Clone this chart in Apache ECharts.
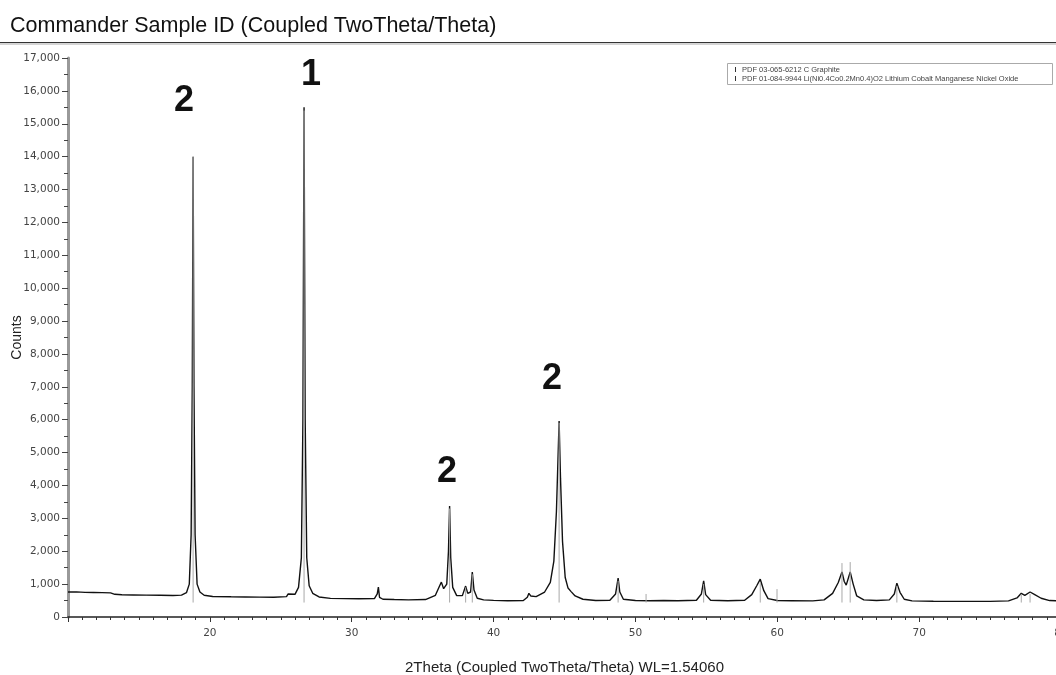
<!DOCTYPE html>
<html>
<head>
<meta charset="utf-8">
<script src="https://cdn.jsdelivr.net/npm/echarts@6/dist/echarts.min.js"></script>
<style>
html,body{margin:0;padding:0;background:#fff;}
#chart{width:1056px;height:675px;}
</style>
</head>
<body>
<div id="chart"></div>
<script>
const scanAngles = [10.0,10.6,11.2,11.8,12.4,13.0,13.3,13.8,14.6,15.5,16.5,17.4,18.0,18.35,18.55,18.68,18.76,18.82,18.88,18.96,19.1,19.3,19.6,20.2,21.5,22.5,23.5,24.5,25.4,25.52,25.58,25.64,26.0,26.25,26.45,26.56,26.64,26.72,26.83,27.0,27.25,27.7,28.5,29.5,30.5,31.6,31.8,31.88,31.96,32.2,33.0,34.0,35.2,35.9,36.2,36.32,36.48,36.7,36.82,36.9,36.98,37.12,37.4,37.8,38.03,38.18,38.38,38.5,38.62,38.85,39.3,40.0,41.0,42.1,42.38,42.49,42.62,43.0,43.6,44.0,44.25,44.43,44.54,44.62,44.72,44.86,45.05,45.25,45.45,45.54,45.75,46.3,47.2,48.2,48.6,48.78,48.9,49.15,50.0,51.0,52.0,53.0,54.3,54.65,54.81,54.95,55.3,56.5,57.7,58.2,58.55,58.8,59.05,59.35,60.0,61.0,62.5,63.3,63.9,64.3,64.56,64.72,64.86,65.14,65.35,65.6,66.1,67.0,67.9,68.25,68.43,68.65,68.95,69.5,71.0,73.0,75.0,76.3,76.9,77.2,77.45,77.82,78.15,78.6,79.2,80.0];
const scanCounts = [760,765,750,745,740,735,690,675,670,665,660,655,665,740,1000,2500,7000,14000,7000,2500,1000,760,660,625,615,610,605,600,620,700,760,640,690,900,1800,6000,15500,6000,1800,950,720,610,565,560,555,560,700,910,600,540,530,520,530,660,950,1060,860,1000,2000,3375,1800,900,650,650,940,720,760,1370,820,570,520,505,495,500,600,720,640,620,760,1050,1700,3200,4800,5960,4200,2300,1200,880,780,790,640,540,500,510,700,1180,760,540,500,495,500,495,510,700,1100,680,510,495,510,680,950,1150,800,560,500,495,490,520,720,1050,1370,1080,970,1370,1000,640,520,500,520,700,1030,750,540,490,480,475,475,490,580,720,660,760,680,570,500,490];

// Reference pattern sticks (PDF lines): positions and heights
const stickAngles  = [18.82,26.64,36.9,38.03,38.5,44.62,48.78,50.75,54.81,58.8,59.98,64.56,65.14,68.43,77.2,77.82];
const stickHeights = [14000,15400,3300,900,1300,5900,1100,700,1000,1050,850,1640,1670,950,700,700];
const stickBase = 440;

const xTickLabels = [20,30,40,50,60,70,80];
const peakTags = [
  {text:'2', x:184, y:101},
  {text:'1', x:311, y:75},
  {text:'2', x:447, y:472},
  {text:'2', x:552, y:379}
];
const legendItems = [
  'PDF 03-065-6212 C Graphite',
  'PDF 01-084-9944 Li(Ni0.4Co0.2Mn0.4)O2 Lithium Cobalt Manganese Nickel Oxide'
];

const scanData = scanAngles.map((a,i)=>[a, scanCounts[i]]);
const stickData = [];
stickAngles.forEach((a,i)=>{
  stickData.push([a, stickBase]);
  stickData.push([a, stickHeights[i]]);
  stickData.push([a, '-']);
});

const chart = echarts.init(document.getElementById('chart'), null, {renderer:'canvas'});
const fontFam = '"Liberation Sans", Arial, sans-serif';

const graphics = [
  {type:'text', left:10, top:15, style:{text:'Commander Sample ID (Coupled TwoTheta/Theta)', font:'21.5px "Liberation Sans", Arial, sans-serif', fill:'#111'}},
  {type:'line', shape:{x1:0,y1:42.5,x2:1056,y2:42.5}, style:{stroke:'#333', lineWidth:1}},
  {type:'line', shape:{x1:0,y1:44,x2:1056,y2:44}, style:{stroke:'#aaa', lineWidth:1}},
  {type:'rect', shape:{x:727.5,y:63.5,width:325,height:21}, style:{fill:'#fff', stroke:'#aaa', lineWidth:1}},
  {type:'line', shape:{x1:735.5,y1:67,x2:735.5,y2:72}, style:{stroke:'#333', lineWidth:1}},
  {type:'line', shape:{x1:735.5,y1:76,x2:735.5,y2:81}, style:{stroke:'#333', lineWidth:1}},
  {type:'text', x:742, y:69.5, style:{text:legendItems[0], font:'7.5px "Liberation Sans", Arial, sans-serif', fill:'#444', textVerticalAlign:'middle', verticalAlign:'middle'}},
  {type:'text', x:742, y:78.5, style:{text:legendItems[1], font:'7.5px "Liberation Sans", Arial, sans-serif', fill:'#444', textVerticalAlign:'middle', verticalAlign:'middle'}}
];
peakTags.forEach(t=>{
  graphics.push({type:'text', x:t.x, y:t.y, z:100, style:{text:t.text, font:'bold 36px "Liberation Sans", Arial, sans-serif', fill:'#111', align:'center', verticalAlign:'middle', textAlign:'center', textVerticalAlign:'middle'}});
});

chart.setOption({
  animation:false,
  backgroundColor:'#fff',
  grid:{left:68, right:-5, top:58, bottom:58, containLabel:false, outerBoundsMode:'none'},
  xAxis:{
    type:'value', min:10, max:80, interval:10,
    name:'2Theta (Coupled TwoTheta/Theta) WL=1.54060',
    nameLocation:'middle', nameGap:43,
    nameTextStyle:{fontSize:15, fontFamily:fontFam, color:'#222'},
    axisLine:{show:true, onZero:false, lineStyle:{color:'#222', width:1.5}},
    axisTick:{show:true, length:5, lineStyle:{color:'#333'}},
    minorTick:{show:true, splitNumber:10, length:3, lineStyle:{color:'#333'}},
    splitLine:{show:false},
    axisLabel:{
      showMinLabel:false, hideOverlap:false, margin:11, fontSize:10.5, fontFamily:'"DejaVu Sans", sans-serif', color:'#444',
      formatter:v=> xTickLabels.indexOf(v)>=0 ? String(v) : ''
    }
  },
  yAxis:{
    type:'value', min:0, max:17000, interval:1000,
    name:'Counts', nameLocation:'middle', nameGap:44, nameRotate:90, nameMoveOverlap:false,
    nameTextStyle:{fontSize:14, fontFamily:fontFam, color:'#222'},
    axisLine:{show:true, lineStyle:{color:'#999', width:3}},
    axisTick:{show:true, length:6, lineStyle:{color:'#444'}},
    minorTick:{show:true, splitNumber:2, length:4, lineStyle:{color:'#444'}},
    splitLine:{show:false},
    axisLabel:{
      margin:8, fontSize:10.5, fontFamily:'"DejaVu Sans", sans-serif', color:'#444',
      formatter:v=> v.toLocaleString('en-US')
    }
  },
  series:[
    {type:'line', data:scanData, showSymbol:false, symbol:'none', z:2,
     lineStyle:{color:'#111', width:1.4}, silent:true},
    {type:'line', data:stickData, showSymbol:false, symbol:'none', z:3, connectNulls:false,
     lineStyle:{color:'#a8a8a8', width:1}, silent:true}
  ],
  graphic:graphics
});
</script>
</body>
</html>
